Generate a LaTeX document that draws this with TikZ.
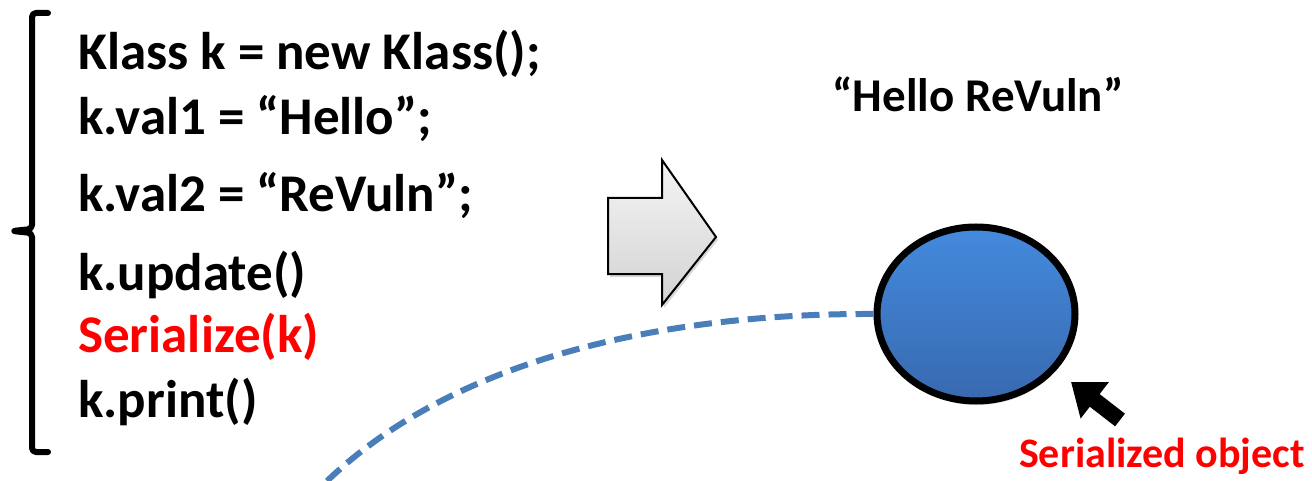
\documentclass[tikz,border=0pt]{standalone}
\usepackage{fontspec}
\setmainfont{Carlito}
\usetikzlibrary{arrows.meta,shadows,shapes.geometric}
\definecolor{codered}{RGB}{255,0,0}
\definecolor{dashblue}{RGB}{74,126,187}
\definecolor{objtop}{RGB}{68,138,222}
\definecolor{objbot}{RGB}{56,105,175}
\tikzset{
  codeline/.style={anchor=base west, inner sep=0pt, font=\bfseries\fontsize{53}{53}\selectfont},
  bracketline/.style={line width=6pt, line cap=round, line join=round, rounded corners=4pt},
  blockarrow/.style={draw=black, line width=2pt, top color=gray!8, bottom color=gray!35, drop shadow={shadow xshift=2pt, shadow yshift=-3pt, opacity=0.3}},
  objstyle/.style={ellipse, draw=black, line width=7pt, minimum width=198pt, minimum height=174pt, top color=objtop, bottom color=objbot, inner sep=0pt},
  curvestyle/.style={draw=dashblue, line width=6pt, dash pattern=on 18pt off 9pt},
  pointer/.style={line width=16pt, -{Triangle[length=30pt, width=44pt]}},
}
\begin{document}
\begin{tikzpicture}[x=1pt,y=-1pt]
\useasboundingbox (0,0) rectangle (1312,481);
% bracket
\draw[bracketline] (48,13) -- (32,13) -- (32,229) -- (12,231) -- (32,233) -- (32,452) -- (48,452);
% code lines
\node[codeline] (l1) at (78,70) {Klass k = new Klass();};
\node[codeline] (l2) at (78,135) {k.val1 = “Hello”;};
\node[codeline] (l3) at (78,212) {k.val2 = “ReVuln”;};
\node[codeline] (l4) at (78,290) {k.update()};
\node[codeline, text=codered] (l5) at (78,352) {Serialize(k)};
\node[codeline] (l6) at (78,417) {k.print()};
% block arrow
\draw[blockarrow] (608,198) -- (662,198) -- (662,160) -- (716,237) -- (662,305) -- (662,274) -- (608,274) -- cycle;
% hello text
\node[font=\bfseries\fontsize{47}{47}\selectfont, anchor=base, inner sep=0pt] (hello) at (978,112) {“Hello ReVuln”};
% object
\node[objstyle, drop shadow={opacity=0.3, shadow xshift=1pt, shadow yshift=-4pt}] (obj) at (976,314) {};
% dashed curve
\coordinate (cend) at (318,490);
\draw[curvestyle] (obj.west) .. controls (650,313) and (440,365) .. (cend);
% pointer
\coordinate (ptail) at (1120,420);
\coordinate (ptip) at (1071,382);
\draw[pointer] (ptail) -- (ptip);
\node[font=\bfseries\fontsize{42}{42}\selectfont, text=codered, anchor=base, inner sep=0pt] (lbl) at (1162,467) {Serialized object};
\end{tikzpicture}
\end{document}
